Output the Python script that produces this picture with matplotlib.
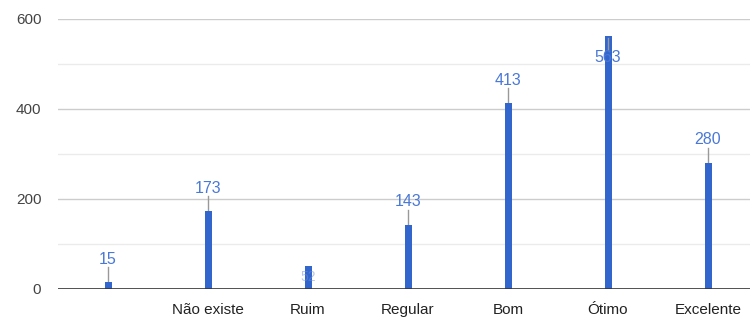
import matplotlib
matplotlib.use("Agg")
import matplotlib.pyplot as plt

plt.rcParams["font.family"] = ["Liberation Sans", "DejaVu Sans"]

categories = ["", "Não existe", "Ruim", "Regular", "Bom", "Ótimo", "Excelente"]
values = [15, 173, 52, 143, 413, 563, 280]
yticks = [0, 200, 400, 600]

fig = plt.figure(figsize=(7.5, 3.22), dpi=100)
ax = fig.add_axes([58/750, (322-289)/322, 692/750, 270/322])
x = list(range(len(categories)))
ax.set_xlim(-0.5, 6.42)
ax.set_ylim(0, 600)

for v in range(100, 700, 100):
    major = v % 200 == 0
    ax.axhline(v, color="#cccccc" if major else "#ebebeb", lw=1.0, zorder=0)
ax.axhline(0, color="#333333", lw=1.2, zorder=3)

ax.bar(x, values, width=0.07, color="#3366cc", zorder=2)

ppu = 270 / 600  # pixels per unit
for xi, v in zip(x, values):
    if v == 52:
        ax.text(xi, v / 2, str(v), ha="center", va="center", fontsize=10,
                color="#6f8fd8", alpha=0.5, zorder=4)
    elif v * ppu > 600 * ppu - 30:
        lab = v - 22 / ppu
        ax.plot([xi, xi], [v - 2 / ppu, v - 14 / ppu], color="#999999", lw=1, zorder=4)
        ax.text(xi, lab, str(v), ha="center", va="center", fontsize=11.5,
                color="#4a78d6", zorder=5)
    else:
        ax.plot([xi, xi], [v, v + 15 / ppu], color="#999999", lw=1, zorder=1)
        ax.text(xi, v + 23 / ppu, str(v), ha="center", va="center", fontsize=11.5,
                color="#4a78d6", zorder=5)

ax.set_xticks(x)
ax.set_xticklabels(categories, fontsize=11, color="#222222")
ax.set_yticks(yticks)
ax.set_yticklabels([str(t) for t in yticks], fontsize=11, color="#444444")
ax.tick_params(length=0)
ax.tick_params(axis="y", pad=12)
ax.tick_params(axis="x", pad=10)
for s in ax.spines.values():
    s.set_visible(False)

fig.savefig("out.png", dpi=100)
